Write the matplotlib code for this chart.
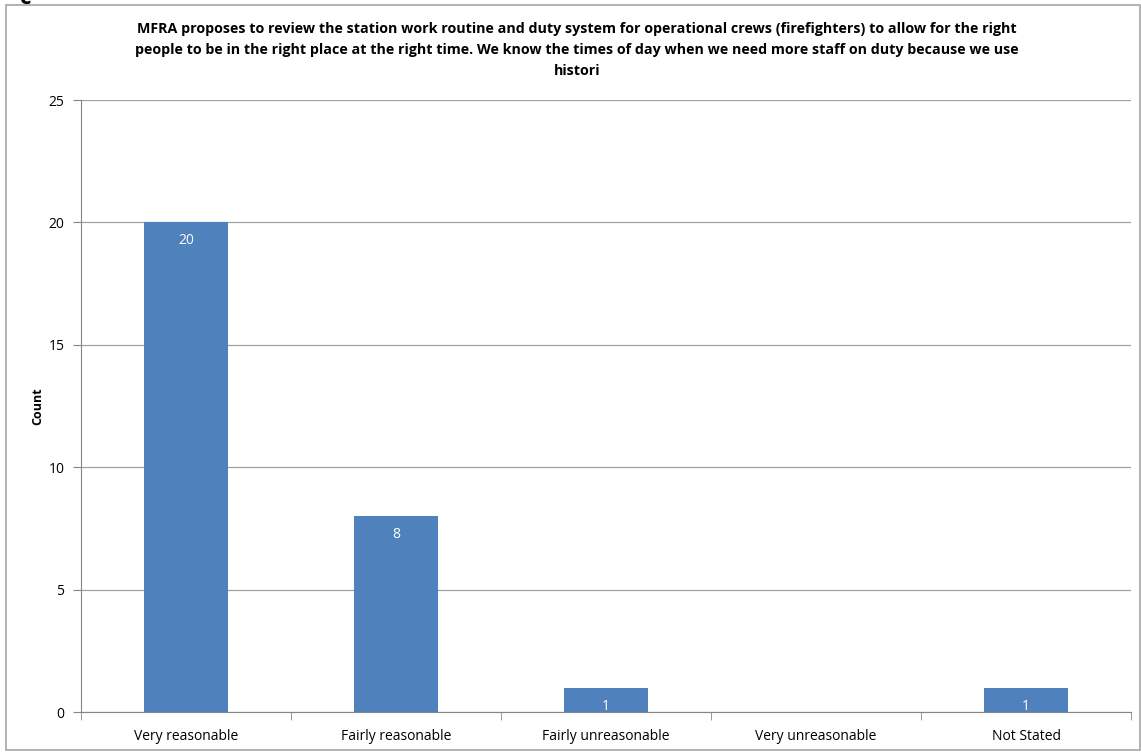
import matplotlib
matplotlib.use("Agg")
import matplotlib.pyplot as plt
from matplotlib.patches import Rectangle

# data
categories = ["Very reasonable", "Fairly reasonable", "Fairly unreasonable",
              "Very unreasonable", "Not Stated"]
counts = [20, 8, 1, 0, 1]
title = ("MFRA proposes to review the station work routine and duty system for operational crews (firefighters) to allow for the right\n"
         "people to be in the right place at the right time. We know the times of day when we need more staff on duty because we use\n"
         "histori")

plt.rcParams['font.family'] = ['Open Sans', 'DejaVu Sans']

fig = plt.figure(figsize=(11.41, 7.52), dpi=100)
W, H = 1141, 752
ax = fig.add_axes([81 / W, 1 - 712 / H, (1131 - 81) / W, (712 - 100) / H])

x = list(range(len(categories)))
bars = ax.bar(x, counts, width=0.4, color="#4F81BD", zorder=3)
for xi, c in zip(x, counts):
    if c > 0:
        ax.text(xi, c - 0.45, str(c), ha="center", va="top", color="white", fontsize=10)

ax.set_xlim(-0.5, len(categories) - 0.5)
ax.set_ylim(0, 25)
ax.set_yticks([0, 5, 10, 15, 20, 25])
ax.set_xticks(x)
ax.set_xticklabels(categories)
ax.set_xticks([i - 0.5 for i in range(len(categories) + 1)], minor=True)
ax.tick_params(axis="x", which="major", length=0, pad=12, labelsize=10)
ax.tick_params(axis="x", which="minor", length=6, color="#868686")
ax.tick_params(axis="y", length=6, color="#868686", labelsize=10, pad=6)
ax.grid(axis="y", color="#A0A0A0", linewidth=0.9, zorder=0)

for s in ["top", "right"]:
    ax.spines[s].set_visible(False)
for s in ["left", "bottom"]:
    ax.spines[s].set_color("#868686")

ax.set_ylabel("Count", fontweight="bold", fontsize=9, labelpad=3)
fig.text(577 / W, 1 - 22 / H, title, ha="center", va="top",
         fontsize=10.3, fontweight="bold", linespacing=1.65)

# outer chart border
fig.patches.append(Rectangle((6 / W, 1 - 750 / H), (1140 - 6) / W, (750 - 5) / H,
                             transform=fig.transFigure, fill=False,
                             edgecolor="#A6A6A6", linewidth=1.2))
fig.text(20 / W, 1 + 1 / H, "c", fontsize=16, fontweight="bold", va="center")

fig.savefig("out.png", dpi=100)
